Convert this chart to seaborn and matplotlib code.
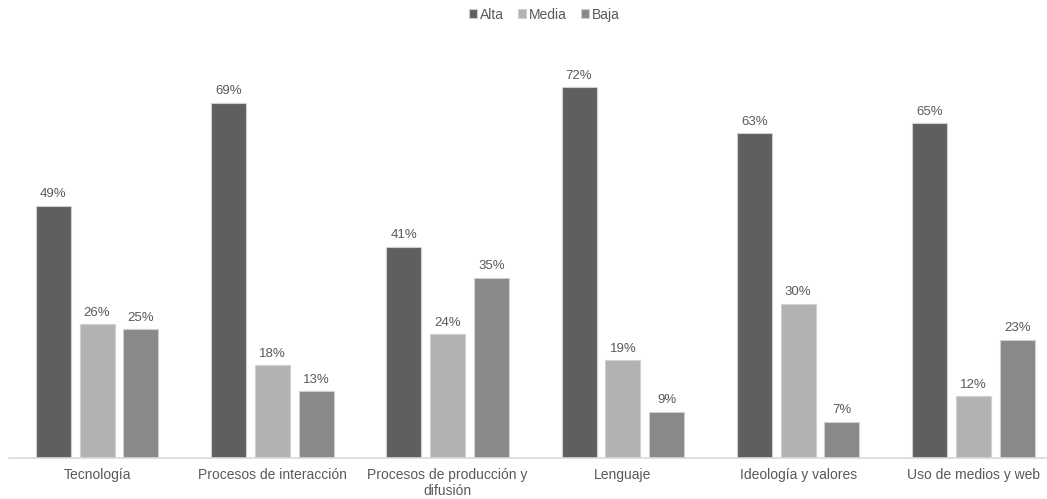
import pandas as pd
import matplotlib.pyplot as plt
import seaborn as sns

categories = ["Tecnología", "Procesos de interacción", "Procesos de producción y\ndifusión",
              "Lenguaje", "Ideología y valores", "Uso de medios y web"]
levels = ["Alta", "Media", "Baja"]
alta = [49, 69, 41, 72, 63, 65]
media = [26, 18, 24, 19, 30, 12]
baja = [25, 13, 35, 9, 7, 23]

colors = ["#5f5f5f", "#b2b2b2", "#898989"]
text_color = "#595959"

rows = []
for i, cat in enumerate(categories):
    for lvl, vals in zip(levels, [alta, media, baja]):
        rows.append({"Categoria": cat, "Nivel": lvl, "Valor": vals[i]})
df = pd.DataFrame(rows)

sns.set_style("white")
plt.rcParams['font.family'] = ['Liberation Sans', 'DejaVu Sans']

fig = plt.figure(figsize=(10.47, 4.99), dpi=100)
ax = fig.add_axes([0.009, 0.082, 0.991, 0.826])

sns.barplot(data=df, x="Categoria", y="Valor", hue="Nivel", order=categories,
            hue_order=levels, palette=colors, width=0.75, gap=0.2,
            edgecolor="#d0d0d0", linewidth=0.8, ax=ax)

for container in ax.containers:
    ax.bar_label(container, labels=[f"{int(v)}%" for v in container.datavalues],
                 padding=4, fontsize=9.5, color=text_color)

ax.set_ylim(0, 80)
ax.set_xlim(-0.5, 5.42)
ax.set_xlabel("")
ax.set_ylabel("")
ax.set_yticks([])
for s in ["top", "right", "left"]:
    ax.spines[s].set_visible(False)
ax.spines["bottom"].set_color("#d9d9d9")
ax.spines["bottom"].set_linewidth(1.2)
ax.tick_params(axis="x", length=0, labelsize=10, colors=text_color, pad=7)

handles, labels = ax.get_legend_handles_labels()
ax.legend(handles, labels, loc="upper center", bbox_to_anchor=(0.52, 1.01),
          bbox_transform=fig.transFigure, ncol=3, frameon=False, fontsize=10,
          handlelength=0.6, handleheight=0.6, handletextpad=0.2, columnspacing=1.0,
          labelcolor=text_color)

plt.savefig("out.png", dpi=100)
